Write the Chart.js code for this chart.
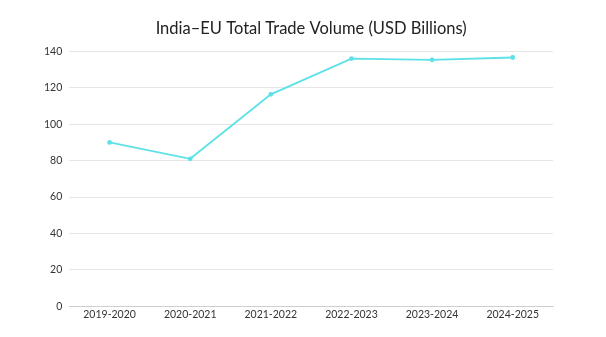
<!DOCTYPE html>
<html>
<head>
<meta charset="utf-8">
<script src="https://cdn.jsdelivr.net/npm/chart.js@4"></script>
<style>
  html, body { margin: 0; padding: 0; background: #fff; }
  #wrap { width: 606px; height: 337px; }
</style>
</head>
<body>
<div id="wrap"><canvas id="tradeChart" width="606" height="337"></canvas></div>
<script>
// Años fiscales (eje X)
const years = ['2019-2020', '2020-2021', '2021-2022', '2022-2023', '2023-2024', '2024-2025'];
// Comercio total India-UE, miles de millones USD
const tradeVolume = [90, 81, 116.4, 136, 135.3, 136.6];
// Marcas del eje Y
const yTicks = [0, 20, 40, 60, 80, 100, 120, 140];

const ctx = document.getElementById('tradeChart').getContext('2d');

new Chart(ctx, {
  type: 'line',
  data: {
    labels: years,
    datasets: [{
      label: 'Total Trade Volume',
      data: tradeVolume,
      borderColor: '#5ce1e6',
      backgroundColor: '#5ce1e6',
      borderWidth: 1.8,
      pointRadius: 1.5,
      pointHoverRadius: 3,
      tension: 0
    }]
  },
  options: {
    responsive: false,
    animation: false,
    layout: { padding: { top: 11, left: 37, right: 53, bottom: 14 } },
    plugins: {
      legend: { display: false },
      tooltip: { enabled: false },
      title: {
        display: true,
        fullSize: false,
        text: 'India–EU Total Trade Volume (USD Billions)',
        color: '#222',
        font: { family: 'Lato', size: 16.5, weight: 'normal', lineHeight: 1.2 },
        padding: { top: 8, bottom: 12.5 }
      }
    },
    scales: {
      x: {
        offset: true,
        grid: { display: false, drawTicks: false },
        border: { display: true, color: '#cfcfcf' },
        ticks: { color: '#333', font: { family: 'Lato', size: 10.5 }, padding: 2 }
      },
      y: {
        min: yTicks[0],
        max: yTicks[yTicks.length - 1],
        grid: { color: '#e6e6e6', drawTicks: false },
        border: { display: false },
        afterBuildTicks: (axis) => { axis.ticks = yTicks.map(v => ({ value: v })); },
        ticks: { color: '#333', font: { family: 'Lato', size: 10.5 }, padding: 7 }
      }
    }
  }
});
</script>
</body>
</html>
